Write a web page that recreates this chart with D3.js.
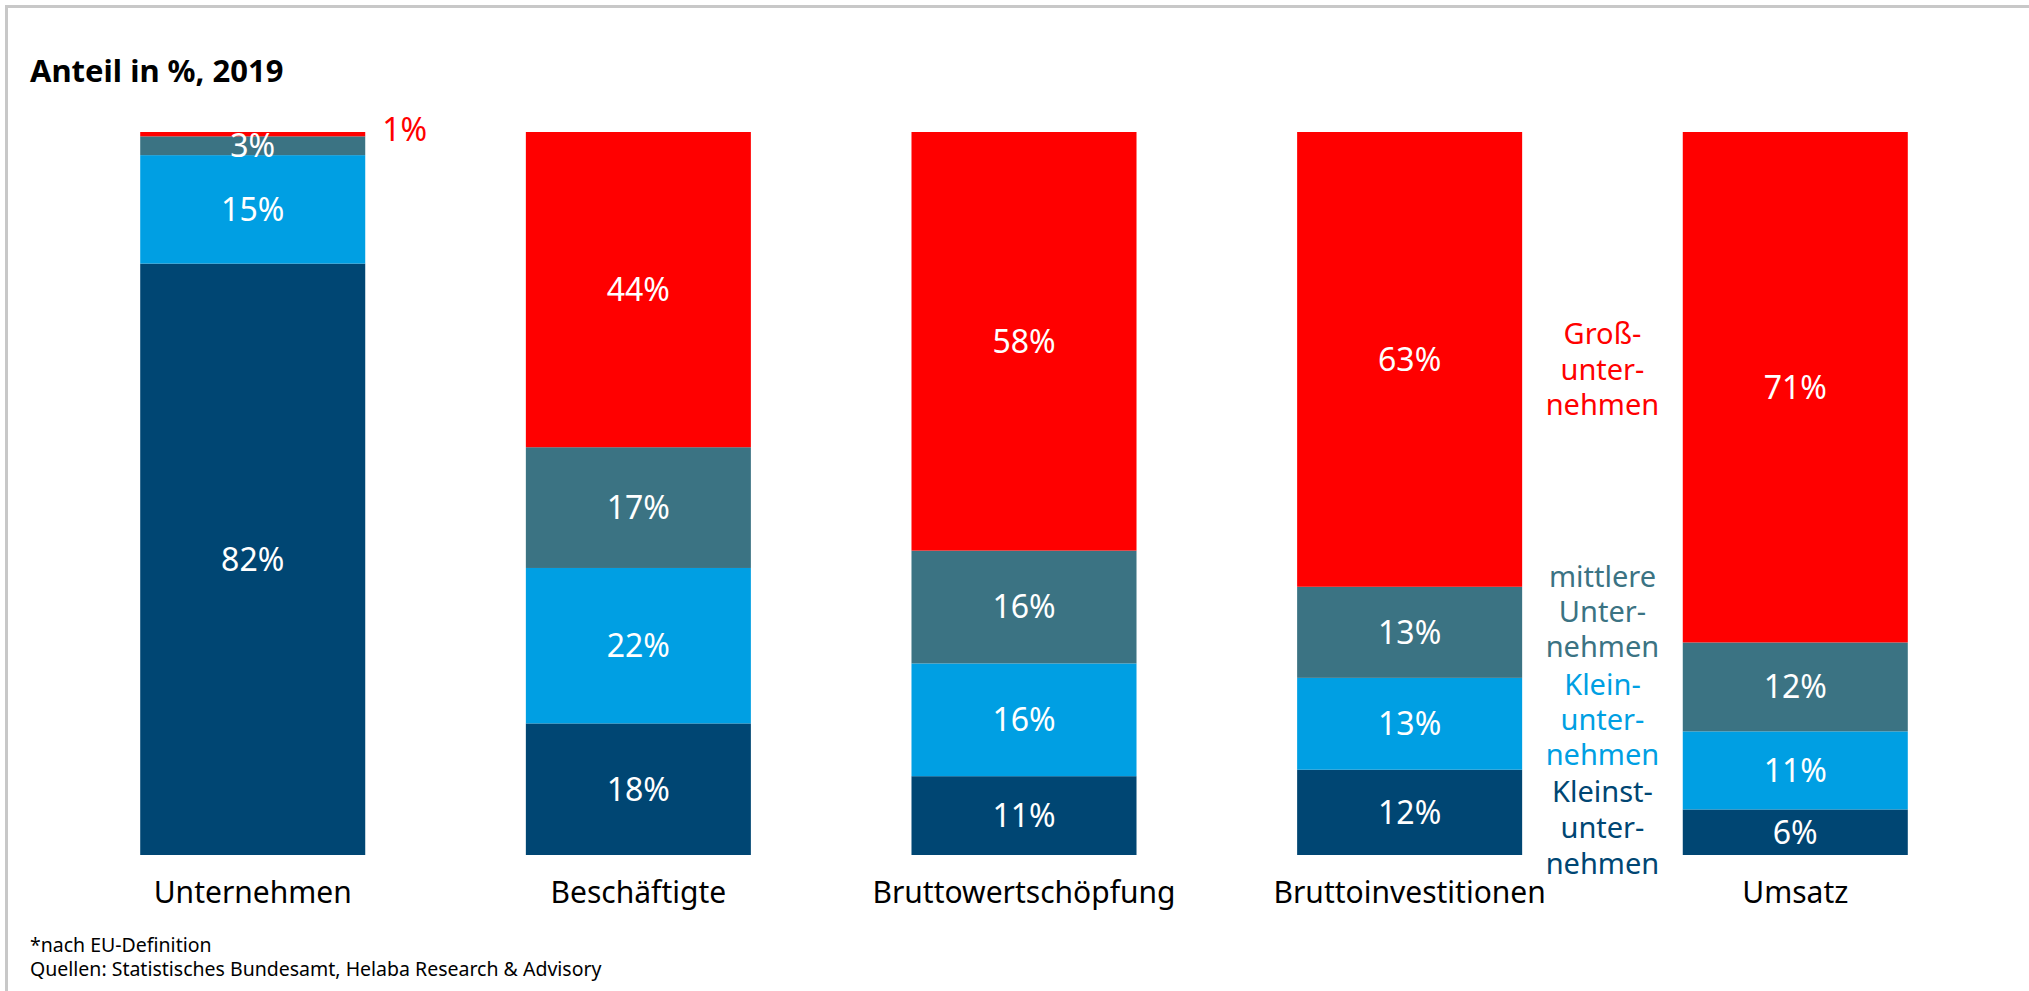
<!DOCTYPE html>
<html>
<head>
<meta charset="utf-8">
<script src="https://cdn.jsdelivr.net/npm/d3@7"></script>
<style>
  html, body { margin: 0; padding: 0; background: #ffffff; }
  svg { display: block; }
  text { font-family: "Noto Sans", "Open Sans", sans-serif; }
</style>
</head>
<body>
<svg id="chart" width="2029" height="991"></svg>
<script>
// ---- Data ----
const categories = ["Unternehmen", "Beschäftigte", "Bruttowertschöpfung", "Bruttoinvestitionen", "Umsatz"];
const kleinst  = [81.8, 18.2, 10.9, 11.8, 6.3];
const klein    = [15.0, 21.5, 15.6, 12.7, 10.8];
const mittlere = [2.6, 16.7, 15.6, 12.6, 12.3];
const gross    = [0.6, 43.6, 57.9, 62.9, 70.6];
const seriesKeys = ["kleinst", "klein", "mittlere", "gross"];
const seriesLegend = [
  ["Kleinst-", "unter-", "nehmen"],
  ["Klein-", "unter-", "nehmen"],
  ["mittlere", "Unter-", "nehmen"],
  ["Groß-", "unter-", "nehmen"]
];
const title = "Anteil in %, 2019";
const footnotes = ["*nach EU-Definition", "Quellen: Statistisches Bundesamt, Helaba Research & Advisory"];

// ---- Styles / layout ----
const colors = { kleinst: "#004673", klein: "#009fe3", mittlere: "#3b7383", gross: "#ff0000" };
const legendBaselines = { gross: [344, 380, 415], mittlere: [587, 622, 657], klein: [695, 730, 765], kleinst: [802, 838, 874] };

const table = categories.map((c, i) => ({
  cat: c, kleinst: kleinst[i], klein: klein[i], mittlere: mittlere[i], gross: gross[i]
}));

const svg = d3.select("#chart");

// frame
svg.append("rect").attr("x", 0).attr("y", 0).attr("width", 2029).attr("height", 991).attr("fill", "#fff");
svg.append("line").attr("x1", 5).attr("x2", 2029).attr("y1", 6.5).attr("y2", 6.5)
  .attr("stroke", "#c8c8c8").attr("stroke-width", 3);
svg.append("line").attr("x1", 6.5).attr("x2", 6.5).attr("y1", 5).attr("y2", 991)
  .attr("stroke", "#c8c8c8").attr("stroke-width", 3);

// title
svg.append("text").attr("x", 30).attr("y", 82).attr("font-size", 31).attr("font-weight", "bold")
  .attr("fill", "#000").text(title);

const x = d3.scaleBand().domain(categories).range([60, 1988]).paddingInner(0.4165).paddingOuter(0.208);
const y = d3.scaleLinear().domain([0, 100]).range([855, 132]);

const stack = d3.stack().keys(seriesKeys)(table);
const fmt = d3.format(".0f");

const layers = svg.append("g").selectAll("g").data(stack).join("g")
  .attr("fill", d => colors[d.key]);

layers.selectAll("rect").data(d => d).join("rect")
  .attr("x", d => x(d.data.cat))
  .attr("width", x.bandwidth())
  .attr("y", d => y(d[1]))
  .attr("height", d => y(d[0]) - y(d[1]));

// value labels
const valFs = 32;
stack.forEach(layer => {
  layer.forEach(d => {
    const v = d[1] - d[0];
    const cy = (y(d[0]) + y(d[1])) / 2;
    const small = (y(d[0]) - y(d[1])) < 10;
    const t = svg.append("text")
      .attr("font-size", valFs)
      .text(fmt(v) + "%");
    if (small) {
      t.attr("x", x(d.data.cat) + x.bandwidth() + 17)
        .attr("y", cy + 6.5)
        .attr("text-anchor", "start")
        .attr("fill", colors[layer.key]);
    } else {
      t.attr("x", x(d.data.cat) + x.bandwidth() / 2)
        .attr("y", cy + valFs * 0.357)
        .attr("text-anchor", "middle")
        .attr("fill", "#ffffff");
    }
  });
});

// category labels
svg.append("g").selectAll("text").data(categories).join("text")
  .attr("x", d => x(d) + x.bandwidth() / 2)
  .attr("y", 903)
  .attr("text-anchor", "middle")
  .attr("font-size", 30)
  .attr("fill", "#000")
  .text(d => d);

// legend between last two bars
const lx = (x(categories[3]) + x.bandwidth() + x(categories[4])) / 2;
seriesKeys.forEach((k, i) => {
  seriesLegend[i].forEach((line, j) => {
    svg.append("text")
      .attr("x", lx)
      .attr("y", legendBaselines[k][j])
      .attr("text-anchor", "middle")
      .attr("font-size", 29)
      .attr("fill", colors[k])
      .text(line);
  });
});

// footnotes
footnotes.forEach((f, i) => {
  svg.append("text").attr("x", 30).attr("y", 952 + i * 23.5)
    .attr("font-size", 19.5).attr("fill", "#000").text(f);
});
</script>
</body>
</html>
